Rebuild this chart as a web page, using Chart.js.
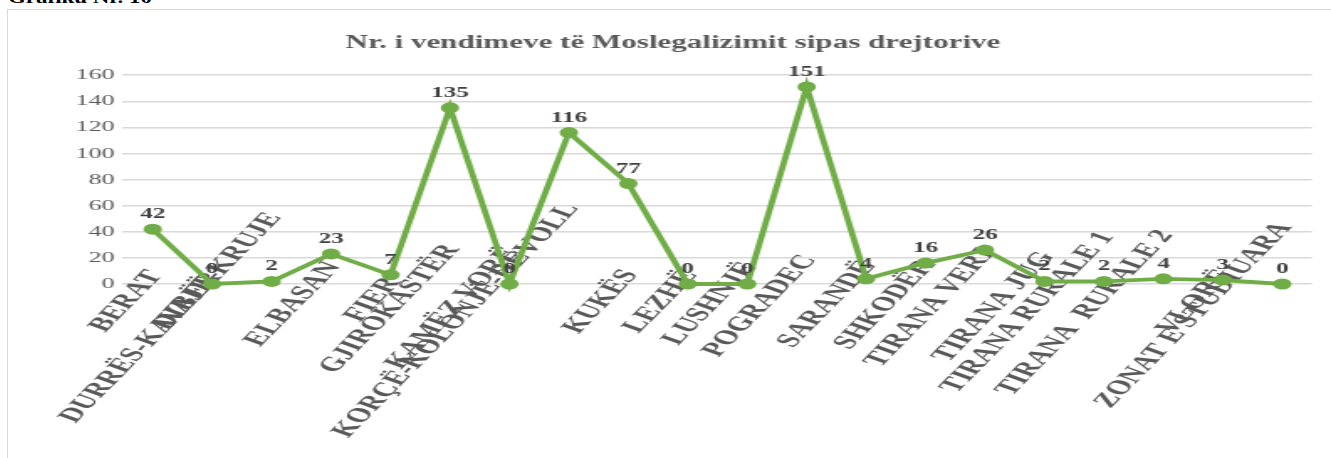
<!DOCTYPE html>
<html>
<head>
<meta charset="utf-8">
<script src="https://cdn.jsdelivr.net/npm/chart.js@4"></script>
<style>
  html, body { margin: 0; padding: 0; background: #fff; overflow: hidden; }
  #head {
    position: absolute; left: 8px; top: -12px;
    font: bold 17px "Liberation Serif", serif; color: #000;
    transform-origin: 0 0; transform: scaleX(1.35); white-space: nowrap;
  }
  #box {
    position: absolute; left: 7px; top: 9px; width: 1324px; height: 449px;
    border-left: 1px solid #d9d9d9; border-top: 1px solid #d9d9d9;
    overflow: hidden;
  }
  #chart { position: absolute; left: 0; top: 0; transform-origin: 0 0; }
</style>
</head>
<body>
<div id="head">Grafiku Nr. 10</div>
<div id="box"><canvas id="chart"></canvas></div>
<script>
// DATA PART

var titleText = 'Nr. i vendimeve të Moslegalizimit sipas drejtorive';

var drejtorite = [
    'BERAT', 'DIBËR', 'DURRËS-KAVAJË-KRUJE', 'ELBASAN', 'FIER', 'GJIROKASTËR',
    'KAMËZ VORË', 'KORÇË-KOLONJË-DEVOLL', 'KUKËS', 'LEZHË', 'LUSHNJË', 'POGRADEC',
    'SARANDË', 'SHKODËR', 'TIRANA VERI', 'TIRANA JUG', 'TIRANA RURALE 1',
    'TIRANA  RURALE 2', 'VLORË', 'ZONAT E STUDIUARA'
];

var vendime = [42, 0, 2, 23, 7, 135, 0, 116, 77, 0, 0, 151, 4, 16, 26, 2, 2, 4, 3, 0];

var yTicks = [0, 20, 40, 60, 80, 100, 120, 140, 160];

// SIZE PART (the reference is stretched sideways, so we draw narrow and stretch)

var S = 1.679;
var W = Math.round(1323 / S);
var H = 448;
var areaLeft = 115 / S;
var areaRight = 1304 / S;
var padRight = W - areaRight;
var padLeft = padRight + 4;
var ROT = 59.2 * Math.PI / 180;

var canvas = document.getElementById('chart');
canvas.width = W;
canvas.height = H;
canvas.style.width = W + 'px';
canvas.style.height = H + 'px';
canvas.style.transform = 'scaleX(' + S + ')';

// PLUGINS PART

var xLabels = {
    id: 'xLabels',
    beforeDatasetsDraw(chart) {
        var ctx = chart.ctx;
        var xs = chart.scales.x;
        ctx.save();
        ctx.font = 'bold 20px "Liberation Serif"';
        ctx.fillStyle = '#595959';
        ctx.textAlign = 'right';
        ctx.textBaseline = 'top';
        drejtorite.forEach((lab, i) => {
            var w = ctx.measureText(lab).width;
            var x = xs.getPixelForTick(i) - 7;
            var y = 280 - 0.39 * S * w * Math.cos(ROT);
            ctx.save();
            ctx.translate(x, y);
            ctx.rotate(-ROT);
            ctx.fillText(lab, 0, 0);
            ctx.restore();
        });
        ctx.restore();
    }
};

var valueLabels = {
    id: 'valueLabels',
    afterDatasetsDraw(chart) {
        var ctx = chart.ctx;
        var meta = chart.getDatasetMeta(0);
        ctx.save();
        ctx.font = 'bold 15px "Liberation Serif"';
        ctx.fillStyle = '#404040';
        ctx.textAlign = 'center';
        ctx.textBaseline = 'alphabetic';
        meta.data.forEach((pt, i) => {
            ctx.fillText(String(vendime[i]), pt.x, pt.y - 11);
        });
        ctx.restore();
    }
};

// CHART PART

new Chart(canvas, {
    type: 'line',
    data: {
        labels: drejtorite,
        datasets: [{
            data: vendime,
            borderColor: '#70ad47',
            backgroundColor: '#70ad47',
            borderWidth: 3.8,
            pointRadius: 5.5,
            pointBorderWidth: 0,
            tension: 0,
            clip: false
        }]
    },
    options: {
        responsive: false,
        animation: false,
        devicePixelRatio: 1,
        layout: { padding: { left: padLeft, right: padRight, top: 0, bottom: 0 } },
        plugins: {
            legend: { display: false },
            tooltip: { enabled: false },
            title: {
                display: true,
                text: titleText,
                color: '#595959',
                font: { family: '"Liberation Serif"', size: 18.5, weight: 'bold' },
                padding: { top: 22, bottom: 21 }
            }
        },
        scales: {
            x: {
                offset: true,
                grid: { display: false },
                border: { display: false },
                ticks: { display: false },
                afterFit(scale) { scale.height = H - 274; }
            },
            y: {
                min: 0,
                max: 160,
                afterBuildTicks(scale) { scale.ticks = yTicks.map(v => ({ value: v })); },
                grid: { color: '#d9d9d9', lineWidth: 1.5, drawTicks: false },
                border: { display: false },
                ticks: {
                    color: '#595959',
                    padding: 5,
                    font: { family: '"Liberation Serif"', size: 15.5 }
                },
                afterFit(scale) { scale.width = areaLeft - padLeft; }
            }
        }
    },
    plugins: [xLabels, valueLabels]
});
</script>
</body>
</html>
